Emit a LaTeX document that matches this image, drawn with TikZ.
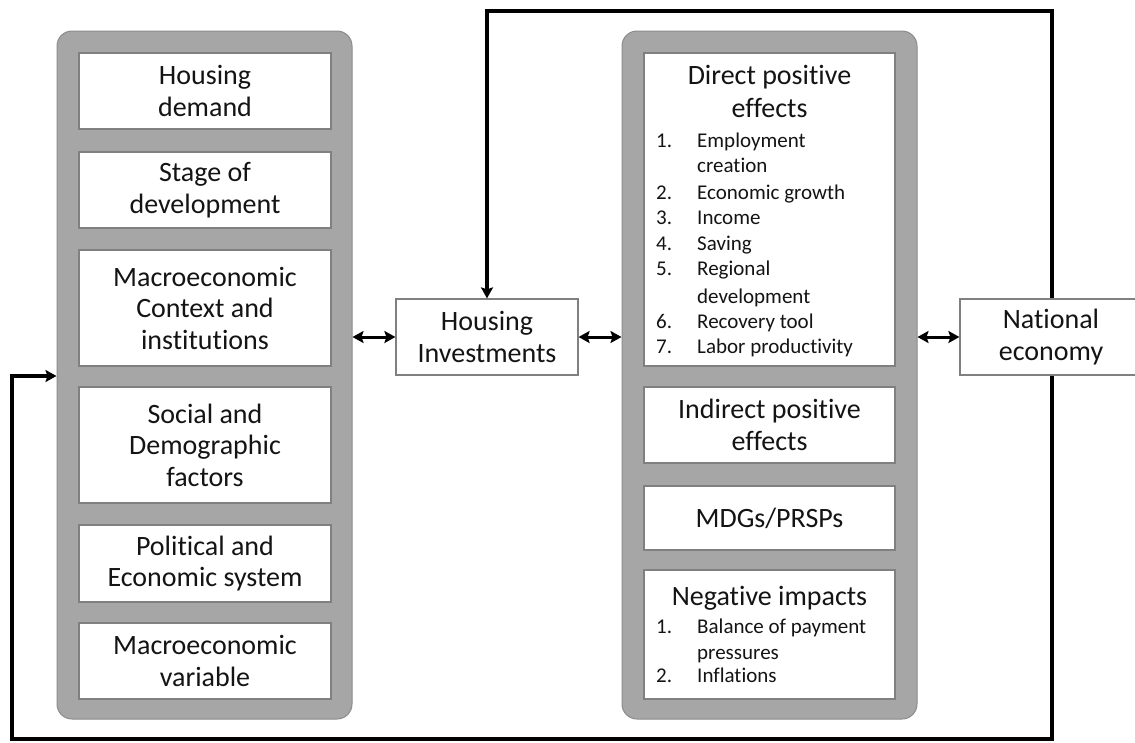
\documentclass[tikz,border=0pt]{standalone}
\usepackage{fontspec}
\setmainfont[Ligatures=NoCommon]{Carlito}
\usetikzlibrary{arrows.meta}

\definecolor{panelgray}{HTML}{A6A6A6}
\definecolor{paneledge}{HTML}{8C8C8C}
\definecolor{cardedge}{HTML}{808080}
\definecolor{ink}{HTML}{141414}

\newcommand\headtext{\fontsize{28}{31.5}\selectfont}
\newcommand\itemtext{\fontsize{21}{25}\selectfont}

\begin{document}
\begin{tikzpicture}[x=1pt,y=-1pt,
  panel/.style={draw=paneledge, line width=1pt, fill=panelgray,
    rounded corners=15pt, inner sep=0pt, minimum width=295pt, minimum height=688pt},
  card/.style={draw=cardedge, line width=1.2pt, fill=white, inner sep=0pt,
    align=center, text=ink, font=\headtext},
  leftcard/.style={card, minimum width=252pt},
  rightcard/.style={card, minimum width=251pt},
  heading/.style={inner sep=0pt, text=ink, font=\headtext, anchor=base},
  item/.style={inner sep=0pt, text=ink, font=\itemtext, anchor=base west},
  tip/.tip={Stealth[length=11pt,width=12pt,inset=2pt]},
  feed/.style={line width=3.2pt, tip-tip},
  dbl/.style={line width=3pt, tip-tip}
]
\useasboundingbox (0,0) rectangle (1135,742);
\clip (0,0) rectangle (1135,742);
\fill[white] (0,0) rectangle (1135,742);

% determinants of housing investment
\node[panel] (lp) at (204.5,375) {};
\node[leftcard, minimum height=76pt]  (hd)  at (205,91)    {Housing\\demand};
\node[leftcard, minimum height=76pt]  (sd)  at (205,190)   {Stage of\\development};
\node[leftcard, minimum height=116pt] (mci) at (205,308)   {Macroeconomic\\Context and\\institutions};
\node[leftcard, minimum height=116pt] (sdf) at (205,445)   {Social and\\Demographic\\factors};
\node[leftcard, minimum height=77pt]  (pes) at (205,563.5) {Political and\\Economic system};
\node[leftcard, minimum height=76pt]  (mv)  at (205,661)   {Macroeconomic\\variable};

% effects of housing investment
\node[panel] (rp) at (769.5,375) {};
\node[rightcard, minimum height=313pt] (dpe) at (769.5,209.5) {};
\node[rightcard, minimum height=76pt]  (ipe) at (769.5,425)   {Indirect positive\\effects};
\node[rightcard, minimum height=64pt]  (mdg) at (769.5,518)   {MDGs/PRSPs};
\node[rightcard, minimum height=129pt] (neg) at (769.5,634.5) {};

\node[heading] (dpeA) at (769.5,84)  {Direct positive};
\node[heading] (dpeB) at (769.5,117) {effects};
\foreach \y/\t [count=\k] in {147/Employment, 172/creation, 199/Economic growth,
    224/Income, 250/Saving, 275/Regional, 303/development, 328/Recovery tool,
    353/Labor productivity}
  \node[item] (dpeT\k) at (697,\y) {\t};
\foreach \y/\n in {147/1, 199/2, 224/3, 250/4, 275/5, 328/6, 353/7}
  \node[item] (dpeN\n) at (656,\y) {\n.};

\node[heading] (negA) at (769.5,605) {Negative impacts};
\foreach \y/\t [count=\k] in {633/Balance of payment, 659/pressures, 682/Inflations}
  \node[item] (negT\k) at (697,\y) {\t};
\foreach \y/\n in {633/1, 682/2}
  \node[item] (negN\n) at (656,\y) {\n.};

% central and outer boxes
\node[card, minimum width=182pt, minimum height=76pt] (hi) at (487,337) {Housing\\Investments};

\coordinate (fbA) at (1052,11);
\coordinate (fbB) at (1052,739);
\coordinate (fbC) at (12,739);
\coordinate (fbD) at (12,376);
\draw[feed] (hi.north) -- (hi.north |- fbA) -- (fbA) -- (fbB) -- (fbC) -- (fbD) -- (fbD -| lp.west);

\node[card, minimum width=182pt, minimum height=76pt] (ne) at (1051,337) {National\\economy};

% two-way links
\draw[dbl] (hi.west -| lp.east) -- (hi.west);
\draw[dbl] (hi.east) -- (hi.east -| rp.west);
\draw[dbl] (ne.west -| rp.east) -- (ne.west);
\end{tikzpicture}
\end{document}
